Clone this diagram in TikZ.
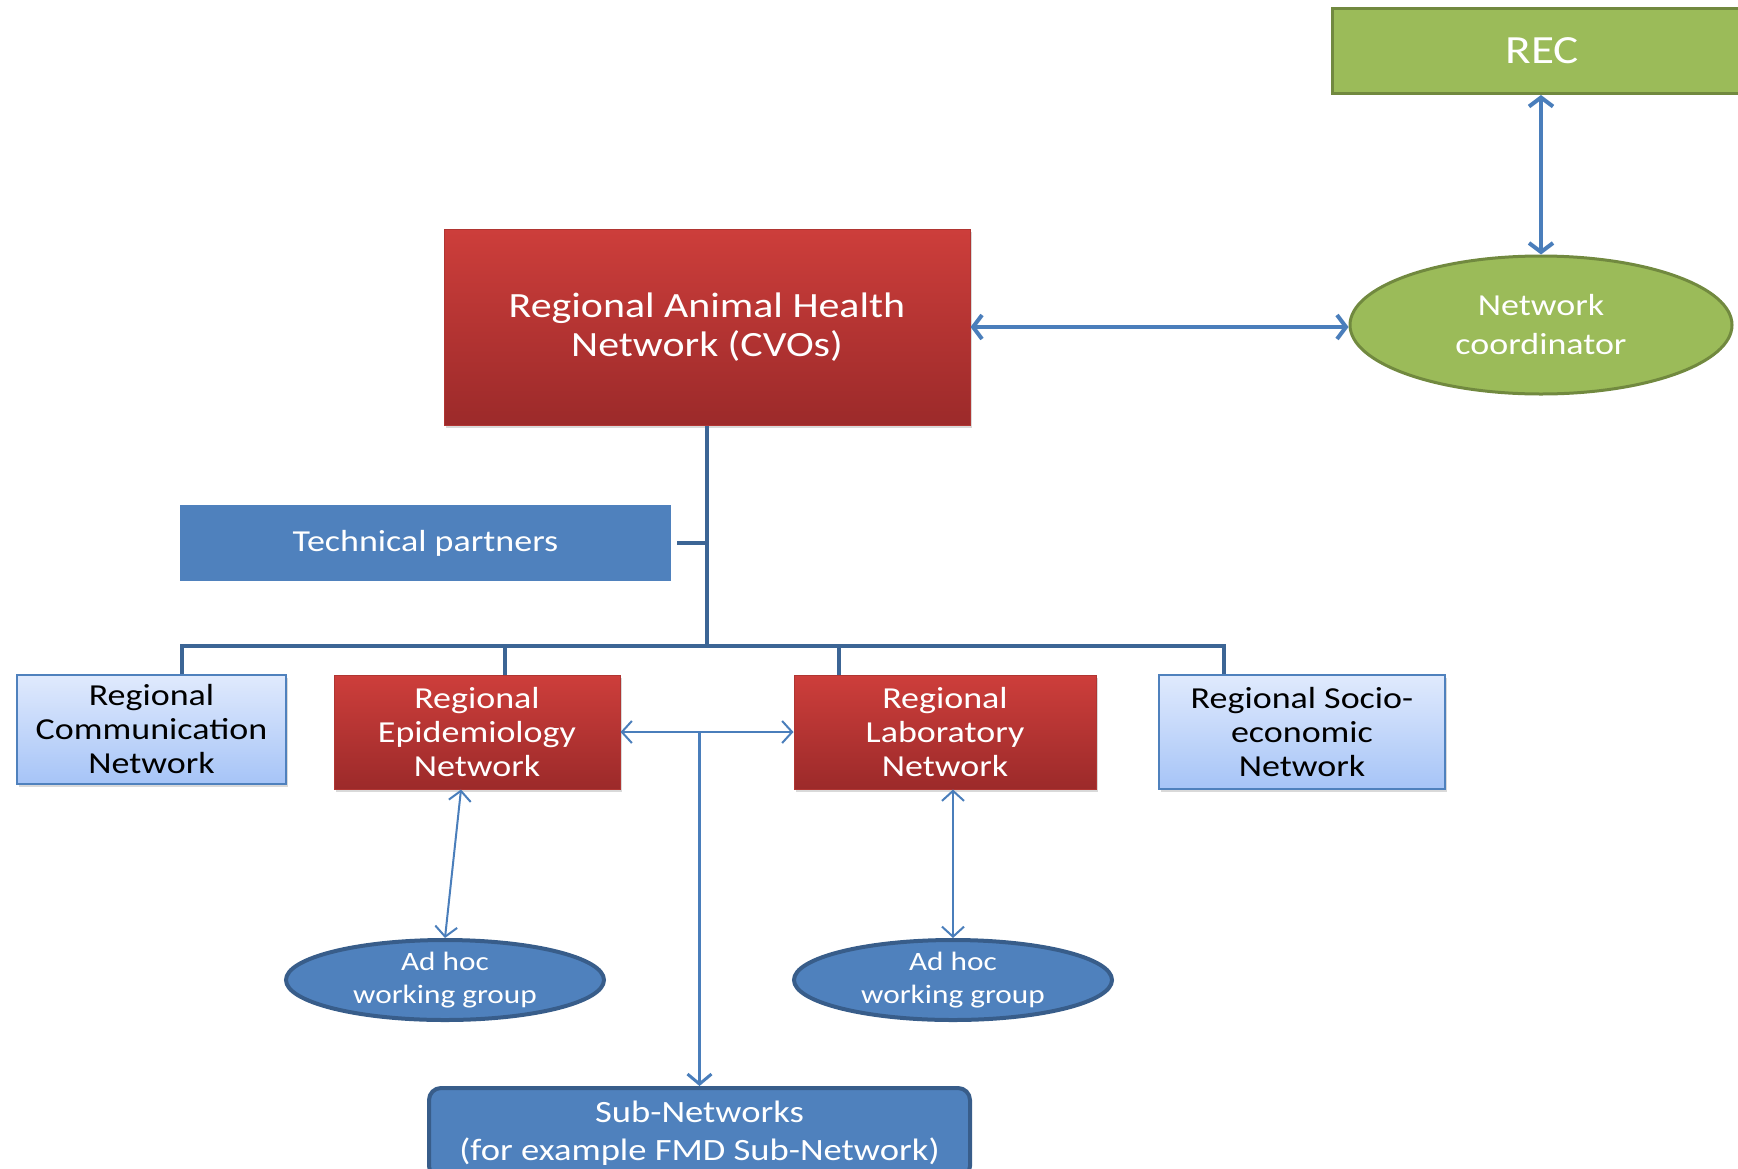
\documentclass[tikz,border=0pt]{standalone}
\usepackage{fontspec}
\setmainfont{Carlito}[FakeStretch=1.18]
\usetikzlibrary{arrows.meta,shapes.geometric,shadows}
\definecolor{redtop}{HTML}{CD3E3B}
\definecolor{redbot}{HTML}{9C2A2A}
\definecolor{redline}{HTML}{B03532}
\definecolor{grnfill}{HTML}{9BBB59}
\definecolor{grnline}{HTML}{71893F}
\definecolor{bluefill}{HTML}{4F81BD}
\definecolor{blueline}{HTML}{385D8A}
\definecolor{treeline}{HTML}{3C6595}
\definecolor{arrowblue}{HTML}{4A7EBB}
\definecolor{ltop}{HTML}{E0EAFD}
\definecolor{lbot}{HTML}{A6C4F7}
\tikzset{
  redbox/.style={rectangle, draw=redline, line width=1pt, top color=redtop, bottom color=redbot,
    text=white, align=center, inner sep=0pt,
    drop shadow={opacity=0.3, shadow xshift=2pt, shadow yshift=-3pt}},
  lightbox/.style={rectangle, draw=bluefill, line width=2pt, top color=ltop, bottom color=lbot,
    text=black, align=center, inner sep=0pt,
    drop shadow={opacity=0.3, shadow xshift=2pt, shadow yshift=-3pt}},
  greenbox/.style={draw=grnline, line width=3pt, fill=grnfill, text=white, align=center, inner sep=0pt},
  blueell/.style={ellipse, draw=blueline, line width=4pt, fill=bluefill, text=white, align=center, inner sep=0pt},
  tree/.style={draw=treeline, line width=4pt},
  thickarrow/.style={draw=arrowblue, line width=4pt,
    {Straight Barb[length=9pt,width=24pt]}-{Straight Barb[length=9pt,width=24pt]}},
  thinarrow/.style={draw=arrowblue, line width=2pt,
    {Straight Barb[length=10pt,width=22pt]}-{Straight Barb[length=10pt,width=22pt]}},
  downarrow/.style={draw=arrowblue, line width=3pt, -{Straight Barb[length=10pt,width=24pt]}},
  fA/.style={font=\fontsize{40}{44}\selectfont},
  fB/.style={font=\fontsize{35.5}{39}\selectfont},
  fC/.style={font=\fontsize{30.5}{34}\selectfont},
  fD/.style={font=\fontsize{30.5}{39}\selectfont},
  fE/.style={font=\fontsize{26.5}{33}\selectfont},
  fF/.style={font=\fontsize{31}{38}\selectfont},
}
\begin{document}
\begin{tikzpicture}[x=1pt,y=-1pt]
\useasboundingbox (0,0) rectangle (1738,1168);
\clip (0,0) rectangle (1738,1168);
% top
\node[greenbox, fA, minimum width=420pt, minimum height=85pt] (rec) at (1542,51) {REC};
\node[greenbox, fD, ellipse, minimum width=382pt, minimum height=138pt] (coord) at (1541,325)
  {Network\\coordinator};
\node[redbox, fB, minimum width=526pt, minimum height=196pt] (main) at (707,327)
  {Regional Animal Health\\Network (CVOs)};
\node[rectangle, fC, fill=bluefill, text=white, inner sep=0pt, minimum width=491pt, minimum height=76pt] (tech) at (425.5,543)
  {Technical partners};
% second row
\node[lightbox, fC, minimum width=269pt, minimum height=109pt] (comm) at (151.5,729.5)
  {Regional\\Communication\\Network};
\node[redbox, fC, minimum width=286pt, minimum height=114pt] (epi) at (477,732)
  {Regional\\Epidemiology\\Network};
\node[redbox, fC, minimum width=302pt, minimum height=114pt] (lab) at (945,732)
  {Regional\\Laboratory\\Network};
\node[lightbox, fC, minimum width=286pt, minimum height=114pt] (socio) at (1302,732)
  {Regional Socio-\\economic\\Network};
% bottom
\node[blueell, fE, minimum width=318pt, minimum height=80pt] (adhoc1) at (445,980)
  {Ad hoc\\working group};
\node[blueell, fE, minimum width=318pt, minimum height=80pt] (adhoc2) at (953,980)
  {Ad hoc\\working group};
\node[rectangle, fF, rounded corners=12pt, draw=blueline, line width=4pt, fill=bluefill, text=white,
  align=center, inner sep=0pt, minimum width=541pt, minimum height=90pt] (sub) at (699.5,1133)
  {Sub-Networks\\(for example FMD Sub-Network)};
% tree
\coordinate (bus) at (707,646);
\draw[tree] (main.south) -- (bus);
\draw[tree] ([xshift=6pt]tech.east) -- (tech.east -| bus);
\draw[tree] ([xshift=30pt]comm.north) |- (bus);
\draw[tree] ([xshift=28pt]epi.north) |- (bus);
\draw[tree] ([xshift=-106pt]lab.north) |- (bus);
\draw[tree] ([xshift=-78pt]socio.north) |- (bus);
% arrows
\draw[thickarrow] (rec.south -| coord.north) -- (coord.north);
\draw[thickarrow] (main.east) -- (main.east -| coord.west);
\draw[thinarrow] (epi.east) -- (lab.west);
\draw[downarrow] (sub.north |- epi.east) -- (sub.north);
\draw[thinarrow] ([xshift=-16pt]epi.south) -- (adhoc1.north);
\draw[thinarrow] (adhoc2.north |- lab.south) -- (adhoc2.north);
\end{tikzpicture}
\end{document}
